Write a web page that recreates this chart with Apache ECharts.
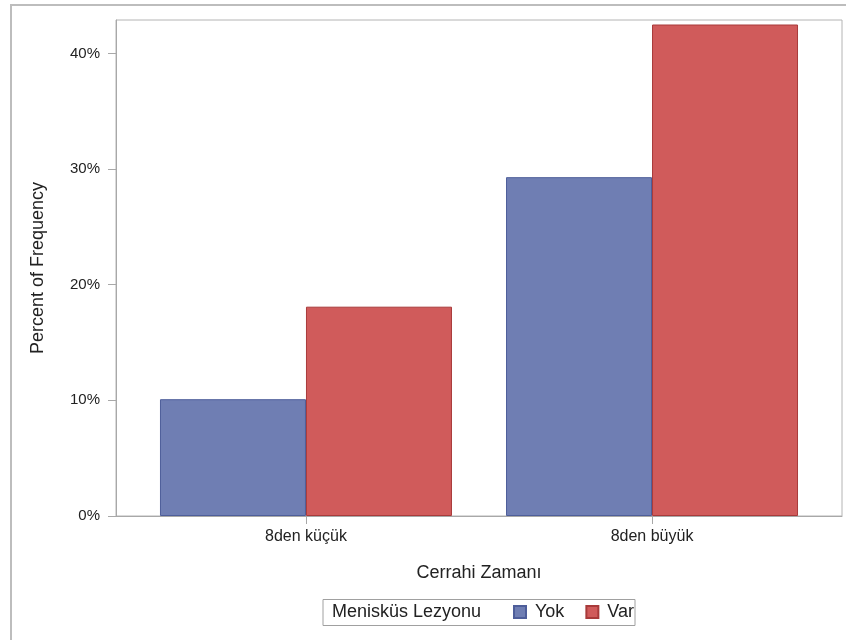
<!DOCTYPE html>
<html>
<head>
<meta charset="utf-8">
<script src="https://cdn.jsdelivr.net/npm/echarts@6/dist/echarts.min.js"></script>
<style>
html,body{margin:0;padding:0;background:#fff;}
#chart{width:846px;height:640px;}
</style>
</head>
<body>
<div id="chart"></div>
<script>
const categories = ['8den küçük', '8den büyük'];
const seriesNames = ['Yok', 'Var'];
const yokValues = [10.1, 29.3];
const varValues = [18.1, 42.5];
const yTicks = [0, 10, 20, 30, 40];
const legendTitle = 'Menisküs Lezyonu';

const FONT = '"Liberation Sans", Arial, sans-serif';
const AXIS_GRAY = '#a8a8a8';

const chart = echarts.init(document.getElementById('chart'), null, {renderer: 'canvas'});
const catIdx = categories.map((c, i) => i);

chart.setOption({
  backgroundColor: '#ffffff',
  animation: false,
  textStyle: {fontFamily: FONT},
  grid: {
    left: 116, top: 20, right: 4, bottom: 124,
    show: true, borderColor: '#b4b4b4', borderWidth: 1
  },
  xAxis: {
    type: 'value',
    min: -0.549, max: 1.549,
    name: 'Cerrahi Zamanı',
    nameLocation: 'middle',
    nameGap: 48,
    nameTextStyle: {fontSize: 18, color: '#222', fontFamily: FONT},
    axisLine: {show: true, onZero: false, lineStyle: {color: AXIS_GRAY, width: 1}},
    splitLine: {show: false},
    axisTick: {show: true, length: 8, customValues: catIdx, lineStyle: {color: AXIS_GRAY}},
    axisLabel: {
      customValues: catIdx,
      fontSize: 16, color: '#222', margin: 13,
      formatter: v => categories[Math.round(v)]
    }
  },
  yAxis: {
    type: 'value',
    min: 0, max: 42.89,
    name: 'Percent of Frequency',
    nameLocation: 'middle',
    nameGap: 69,
    nameTextStyle: {fontSize: 18, color: '#222', fontFamily: FONT},
    axisLine: {show: true, onZero: false, lineStyle: {color: AXIS_GRAY, width: 1}},
    splitLine: {show: false},
    axisTick: {show: true, length: 8, customValues: yTicks, lineStyle: {color: AXIS_GRAY}},
    axisLabel: {
      customValues: yTicks,
      fontSize: 15, color: '#222', margin: 16,
      formatter: v => v + '%'
    }
  },
  legend: {
    left: 513, top: 603, padding: 0,
    itemWidth: 12, itemHeight: 12, itemGap: 21,
    icon: 'rect',
    textStyle: {fontSize: 18, color: '#222', padding: [0, 0, 0, 4], fontFamily: FONT},
    data: seriesNames
  },
  graphic: [
    {
      type: 'rect', silent: true,
      shape: {x: 11, y: 5, width: 900, height: 700},
      style: {fill: 'none', stroke: '#bdbdbd', lineWidth: 2}
    },
    {
      type: 'rect', silent: true,
      shape: {x: 323, y: 599.5, width: 312, height: 26},
      style: {fill: 'none', stroke: '#a0a0a0', lineWidth: 1}
    },
    {
      type: 'text', silent: true,
      left: 332, top: 603,
      style: {text: legendTitle, fontSize: 18, fill: '#222', fontFamily: FONT}
    }
  ],
  series: [
    {
      name: seriesNames[0], type: 'bar',
      barWidth: 146, barGap: '0%',
      itemStyle: {color: '#6F7EB3', borderColor: '#4E5E9A', borderWidth: 1},
      data: yokValues.map((v, i) => [i, v])
    },
    {
      name: seriesNames[1], type: 'bar',
      barWidth: 146, barGap: '0%',
      itemStyle: {color: '#D05B5B', borderColor: '#A83A3A', borderWidth: 1},
      data: varValues.map((v, i) => [i, v])
    }
  ]
});
</script>
</body>
</html>
